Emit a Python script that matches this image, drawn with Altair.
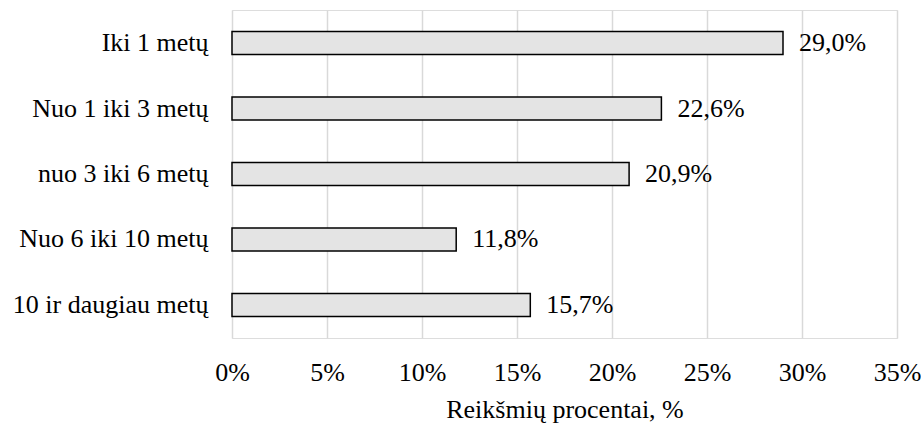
import altair as alt
import pandas as pd

categories = ["Iki 1 metų", "Nuo 1 iki 3 metų", "nuo 3 iki 6 metų", "Nuo 6 iki 10 metų", "10 ir daugiau metų"]
values = [29.0, 22.6, 20.9, 11.8, 15.7]
tick_values = [0, 5, 10, 15, 20, 25, 30, 35]

df = pd.DataFrame({"cat": categories, "v": values})

FONT = "'Liberation Serif', 'Times New Roman', 'DejaVu Serif', serif"
FS = 26

base = alt.Chart(df).encode(
    y=alt.Y("cat:N", sort=categories, title=None,
            scale=alt.Scale(paddingInner=0.65, paddingOuter=0.33),
            axis=alt.Axis(labelFont=FONT, labelFontSize=FS, labelColor="black",
                          ticks=False, domain=False, grid=False, labelPadding=24,
                          labelLimit=400)),
)

bars = base.mark_bar(color="#e4e4e4", stroke="black", strokeWidth=1.5, size=23).encode(
    x=alt.X("v:Q", title="Reikšmių procentai, %",
            scale=alt.Scale(domain=[0, 35], nice=False),
            axis=alt.Axis(values=tick_values, labelExpr="datum.value + '%'",
                          labelFont=FONT, labelFontSize=FS, labelColor="black",
                          labelFlush=False, labelOverlap=False,
                          ticks=False, tickSize=0, domain=False, grid=True,
                          gridColor="#d9d9d9", gridWidth=1.5, labelPadding=21,
                          titleFont=FONT, titleFontSize=FS, titleColor="black",
                          titleFontWeight="normal", titleBaseline="alphabetic",
                          titleY=79)),
)

labels = base.mark_text(align="left", baseline="middle", dx=16, font=FONT,
                        fontSize=FS, color="black").transform_calculate(
    lab="replace(format(datum.v, '.1f'), '.', ',') + '%'"
).encode(x="v:Q", text="lab:N")

chart = (bars + labels).properties(
    width=665, height=328,
    autosize=alt.AutoSizeParams(type="none"),
    padding={"left": 232, "top": 10, "right": 24, "bottom": 85},
).configure_view(stroke=None).configure(background="white")

chart.save("out.html", embed_options={"renderer": "svg", "actions": False})
